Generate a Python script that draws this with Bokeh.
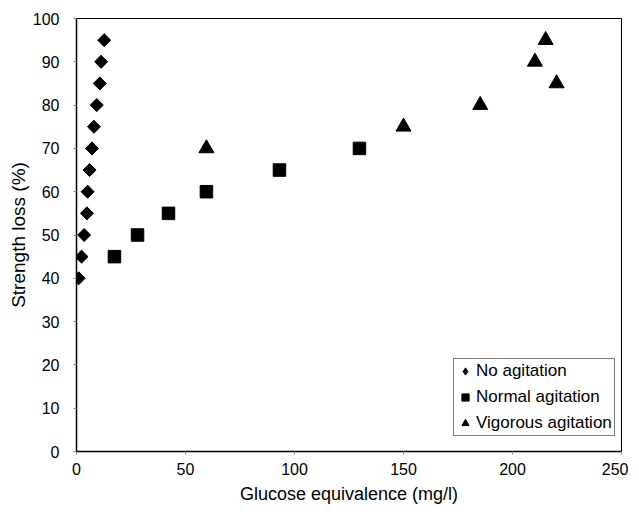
from bokeh.plotting import figure
from bokeh.models import Range1d, Legend, LegendItem, FixedTicker
from bokeh.embed import file_html
from bokeh.resources import INLINE
import math

# Data
no_x = [1.0, 2.3, 3.5, 4.8, 5.1, 6.0, 7.1, 8.0, 9.3, 10.7, 11.3, 12.7]
no_y = [40, 45, 50, 55, 60, 65, 70, 75, 80, 85, 90, 95]
normal_x = [17.4, 28, 42.2, 59.6, 93.1, 129.8]
normal_y = [45, 50, 55, 60, 65, 70]
vig_x = [59.6, 150.0, 185.2, 210.3, 215.2, 220.2]
vig_y = [70, 75, 80, 90, 95, 85]
x_ticks = [0, 50, 100, 150, 200, 250]
y_ticks = [0, 10, 20, 30, 40, 50, 60, 70, 80, 90, 100]

FONT = "Liberation Sans"

p = figure(width=628, height=509, output_backend="svg", toolbar_location=None,
           x_range=Range1d(0, 250), y_range=Range1d(0, 100),
           min_border_left=76, min_border_right=7, min_border_top=18, min_border_bottom=58)

p.xgrid.visible = False
p.ygrid.visible = False
p.outline_line_color = "black"
p.outline_line_width = 1
p.background_fill_color = "white"
p.border_fill_color = "white"

for ax in (p.xaxis[0], p.yaxis[0]):
    ax.axis_line_color = "black"
    ax.axis_line_width = 1.5
    ax.major_tick_in = 0
    ax.major_tick_out = 3
    ax.major_tick_line_color = "#888888"
    ax.minor_tick_line_color = None
    ax.major_label_text_font = FONT
    ax.major_label_text_font_size = "16px"
    ax.major_label_text_color = "black"
    ax.axis_label_text_font = FONT
    ax.axis_label_text_font_size = "18px"
    ax.axis_label_text_font_style = "normal"
    ax.axis_label_text_color = "black"

p.yaxis[0].axis_label_text_font_size = "19px"
p.xaxis.ticker = FixedTicker(ticks=x_ticks)
p.yaxis.ticker = FixedTicker(ticks=y_ticks)
p.xaxis.axis_label = "Glucose equivalence (mg/l)"
p.yaxis.axis_label = "Strength loss (%)"
p.xaxis.major_label_standoff = 8
p.yaxis.major_label_standoff = 14
p.xaxis.axis_label_standoff = 6
p.yaxis.axis_label_standoff = 1

# narrow diamond (legend glyph), hidden under the rotated squares
r1_leg = p.scatter(no_x, no_y, marker="diamond", size=12,
                   fill_color="black", line_color="black")
r1 = p.scatter(no_x, no_y, marker="square", angle=math.pi / 4, size=9.2,
               fill_color="black", line_color="black")
r2 = p.scatter(normal_x, normal_y, marker="square", size=12.5,
               fill_color="black", line_color="black")
r3 = p.scatter(vig_x, vig_y, marker="triangle", size=15,
               fill_color="black", line_color="black")

legend = Legend(items=[LegendItem(label="No agitation", renderers=[r1_leg]),
                       LegendItem(label="Normal agitation", renderers=[r2]),
                       LegendItem(label="Vigorous agitation", renderers=[r3])],
                location=(377, 15))
legend.label_text_font = FONT
legend.label_text_font_size = "17px"
legend.label_text_color = "black"
legend.border_line_color = "black"
legend.border_line_width = 1
legend.glyph_width = 18
legend.glyph_height = 18
legend.label_height = 18
legend.spacing = 6
legend.padding = 2
legend.margin = 0
legend.label_standoff = 2
legend.background_fill_alpha = 1
p.add_layout(legend, "center")

open("out.html", "w").write(file_html(p, INLINE))
